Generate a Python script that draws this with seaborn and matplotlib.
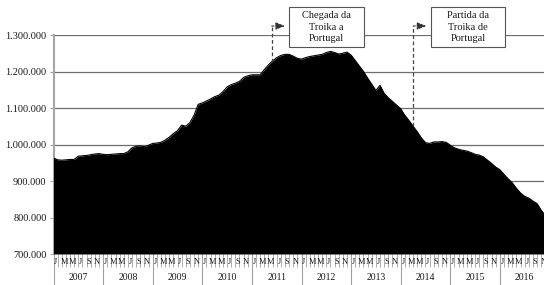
import matplotlib
matplotlib.use('Agg')
import matplotlib.pyplot as plt
import seaborn as sns
import pandas as pd
import numpy as np
from matplotlib.patches import Rectangle
from matplotlib.transforms import blended_transform_factory

# ---- data -------------------------------------------------------------
years = [str(y) for y in range(2007, 2017)]
month_labels = ['J', '', 'M', '', 'M', '', 'J', '', 'S', '', 'N', '']
values_k = [
    963, 958, 957, 958, 959, 959, 968, 969, 970, 972, 974, 975,          # 2007
    973, 972, 973, 974, 975, 975, 980, 991, 995, 996, 994, 998,          # 2008
    1003, 1004, 1006, 1012, 1020, 1030, 1038, 1053, 1050, 1060, 1080, 1110,  # 2009
    1114, 1119, 1125, 1131, 1135, 1145, 1158, 1164, 1168, 1173, 1184, 1188,  # 2010
    1191, 1191, 1191, 1205, 1218, 1229, 1238, 1244, 1247, 1247, 1242, 1236,  # 2011
    1234, 1238, 1241, 1243, 1245, 1247, 1252, 1255, 1252, 1248, 1250, 1253,  # 2012
    1245, 1230, 1215, 1200, 1182, 1165, 1148, 1162, 1140, 1128, 1118, 1108,  # 2013
    1098, 1080, 1066, 1050, 1035, 1018, 1005, 1003, 1007, 1007, 1008, 1006,  # 2014
    998, 991, 987, 984, 982, 978, 973, 971, 966, 957, 948, 938,              # 2015
    931, 918, 906, 895, 880, 867, 858, 853, 845, 838, 820, 805,              # 2016
]
y_ticks = [700000, 800000, 900000, 1000000, 1100000, 1200000, 1300000]
event_positions = [52.8, 87.0]
event_texts = ['Chegada da\nTroika a\nPortugal', 'Partida da\nTroika de\nPortugal']
box_x_ranges = [(57.0, 75.1), (91.3, 109.2)]

# ---- style ------------------------------------------------------------
sns.set_theme(style='white')
plt.rcParams['font.family'] = ['Liberation Serif', 'DejaVu Serif']

W, H = 544, 285
fig = plt.figure(figsize=(W / 100, H / 100), dpi=100)
ax_left, ax_bottom, ax_w, ax_h = 53.5, 31, 496, 219
ax = fig.add_axes([ax_left / W, ax_bottom / H, ax_w / W, ax_h / H])

df = pd.DataFrame({'i': np.arange(len(values_k)),
                   'v': np.array(values_k) * 1000})
sns.lineplot(data=df, x='i', y='v', color='black', lw=0.8, ax=ax, zorder=3)
ax.fill_between(df['i'], 700000, df['v'], color='black', lw=0, zorder=3)

ax.set_xlim(0, 120)
ax.set_ylim(700000, 1300000)
ax.set_xlabel('')
ax.set_ylabel('')

# y axis
ax.set_yticks(y_ticks)
ax.set_yticklabels([f'{v:,}'.replace(',', '.') for v in y_ticks],
                   fontsize=7.5, color='#1a1a1a')
ax.yaxis.grid(True, color='#6e6e6e', lw=0.9)
ax.set_axisbelow(True)
ax.tick_params(axis='y', length=3, width=0.8, color='#a0a0a0', pad=2, left=True)
for s in ['top', 'right', 'bottom']:
    ax.spines[s].set_visible(False)
ax.spines['left'].set_color('#a6a6a6')
ax.spines['left'].set_linewidth(1.5)

# x axis: month tick lines, month letters, year labels, year separators
ax.set_xticks(np.arange(0, 121))
ax.set_xticklabels([])
ax.tick_params(axis='x', length=9.5, width=0.6, color='#a0a0a0', bottom=True)
trans = blended_transform_factory(ax.transData, ax.transAxes)
for k, yr in enumerate(years):
    for m, lab in enumerate(month_labels):
        if lab:
            ax.text(k * 12 + m + 0.55, -8.5 / ax_h, lab, transform=trans,
                    ha='center', va='center', fontsize=6, color='#1a1a1a',
                    clip_on=False)
    ax.text(k * 12 + 6, -24 / ax_h, yr, transform=trans, ha='center',
            va='center', fontsize=7, color='#1a1a1a', clip_on=False)
    ax.plot([k * 12, k * 12], [0, -32 / ax_h], transform=trans,
            color='#a0a0a0', lw=0.8, clip_on=False)

# annotations
top_val = 700000 + 600000 * (254 - 26) / ax_h
box_lo = 700000 + 600000 * (254 - 47) / ax_h
box_hi = 700000 + 600000 * (254 - 7) / ax_h
for ev, txt, (bx0, bx1) in zip(event_positions, event_texts, box_x_ranges):
    yv = np.interp(ev, df['i'], df['v'])
    ax.plot([ev, ev], [yv, top_val], ls=(0, (3, 2)), color='#444444',
            lw=0.9, clip_on=False, zorder=4)
    ax.annotate('', xy=(ev + 3.2, top_val), xytext=(ev, top_val),
                arrowprops=dict(arrowstyle='-|>,head_length=0.45,head_width=0.18',
                                ls=(0, (2, 1.5)), lw=0.8, color='#333333',
                                shrinkA=0, shrinkB=0),
                annotation_clip=False, zorder=4)
    ax.add_patch(Rectangle((bx0, box_lo), bx1 - bx0, box_hi - box_lo,
                           facecolor='white', edgecolor='#555555', lw=0.8,
                           clip_on=False, zorder=5))
    ax.text((bx0 + bx1) / 2, (box_lo + box_hi) / 2, txt, ha='center',
            va='center', fontsize=7.5, color='#1a1a1a', linespacing=1.3,
            zorder=6, clip_on=False)

fig.savefig('out.png', dpi=100)
